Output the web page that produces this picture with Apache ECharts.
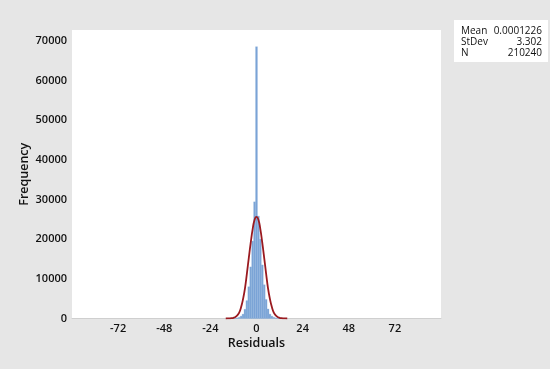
<!DOCTYPE html>
<html>
<head>
<meta charset="utf-8">
<script src="https://cdn.jsdelivr.net/npm/echarts@6/dist/echarts.min.js"></script>
<style>html,body{margin:0;padding:0;background:#e6e6e6;}#c{width:550px;height:369px;}</style>
</head>
<body>
<div id="c"></div>
<script>
// Histogram bins (centres) and frequencies
const binCenters = [-14,-13,-12,-11,-10,-9,-8,-7,-6,-5,-4,-3,-2,-1,0,1,2,3,4,5,6,7,8,9,10,11,12,13,14];
const binCounts  = [10,20,40,80,150,300,600,1100,2300,4500,8000,13000,19500,29400,68500,25800,20000,13500,8500,4800,2400,1100,600,300,150,80,40,20,10];
const binWidth = 1;
// Fitted normal curve as drawn
const curveX = [-16,-15,-14,-13,-12,-11,-10,-9,-8,-7,-6,-5,-4,-3,-2,-1,0,1,2,3,4,5,6,7,8,9,10,11,12,13,14,15,16];
const curveY = [5,10,30,80,180,400,800,1500,2900,4900,7600,11300,15300,19100,22500,24900,25600,24900,22500,19100,15300,11300,7600,4900,2900,1500,800,400,180,80,30,10,5];
const xTicks = [-72,-48,-24,0,24,48,72];
const yTicks = [0,10000,20000,30000,40000,50000,60000,70000];
const statLabels = ['Mean','StDev','N'];
const statValues = ['0.0001226','3.302','210240'];

const chart = echarts.init(document.getElementById('c'));
const font = '"Open Sans", "Noto Sans", sans-serif';
const graphics = [{
  type:'rect', shape:{x:454, y:20, width:94, height:42},
  style:{fill:'#fff'}
}];
statLabels.forEach((s,i)=>{
  graphics.push({type:'text', x:461, y:31+i*11, style:{text:s, fontSize:10, fontFamily:font, fill:'#111', verticalAlign:'middle', align:'left'}});
  graphics.push({type:'text', x:542, y:31+i*11, style:{text:statValues[i], fontSize:10, fontFamily:font, fill:'#111', verticalAlign:'middle', align:'right'}});
});

chart.setOption({
  backgroundColor:'#e6e6e6',
  animation:false,
  grid:{left:72, right:109, top:30, bottom:50.5, show:true, backgroundColor:'#fff', borderWidth:0},
  xAxis:{
    type:'value', min:-96, max:96, interval:24,
    name:'Residuals', nameLocation:'middle', nameGap:18, nameMoveOverlap:false,
    nameTextStyle:{fontSize:12.5, fontFamily:font, color:'#111', fontWeight:600},
    axisLine:{show:true, lineStyle:{color:'#cfcfcf'}},
    axisTick:{show:false},
    splitLine:{show:false},
    axisLabel:{customValues:xTicks, fontSize:11, fontFamily:font, color:'#111', fontWeight:600, margin:5}
  },
  yAxis:{
    type:'value', min:0, max:72700, interval:10000,
    name:'Frequency', nameLocation:'middle', nameGap:41, nameMoveOverlap:false,
    nameTextStyle:{fontSize:12.5, fontFamily:font, color:'#111', fontWeight:600},
    axisLine:{show:false},
    axisTick:{show:false},
    splitLine:{show:false},
    axisLabel:{customValues:yTicks, fontSize:11, fontFamily:font, color:'#111', fontWeight:600, margin:5,
      formatter:v=>String(v)}
  },
  graphic:graphics,
  series:[{
    type:'custom',
    data: binCenters.map((c,i)=>[c, binCounts[i]]),
    renderItem:(params, api)=>{
      const x = api.value(0), y = api.value(1);
      const p0 = api.coord([x - binWidth/2, y]);
      const p1 = api.coord([x + binWidth/2, 0]);
      return {type:'rect', shape:{x:p0[0], y:p0[1], width:p1[0]-p0[0], height:p1[1]-p0[1]},
        style:{fill:'#7ba4d6', stroke:'#8db0dc', lineWidth:0.3}};
    }
  },{
    type:'line', smooth:true, symbol:'none',
    data: curveX.map((x,i)=>[x, curveY[i]]),
    lineStyle:{color:'#9a1a20', width:1.8},
    z:5
  }]
});
</script>
</body>
</html>
